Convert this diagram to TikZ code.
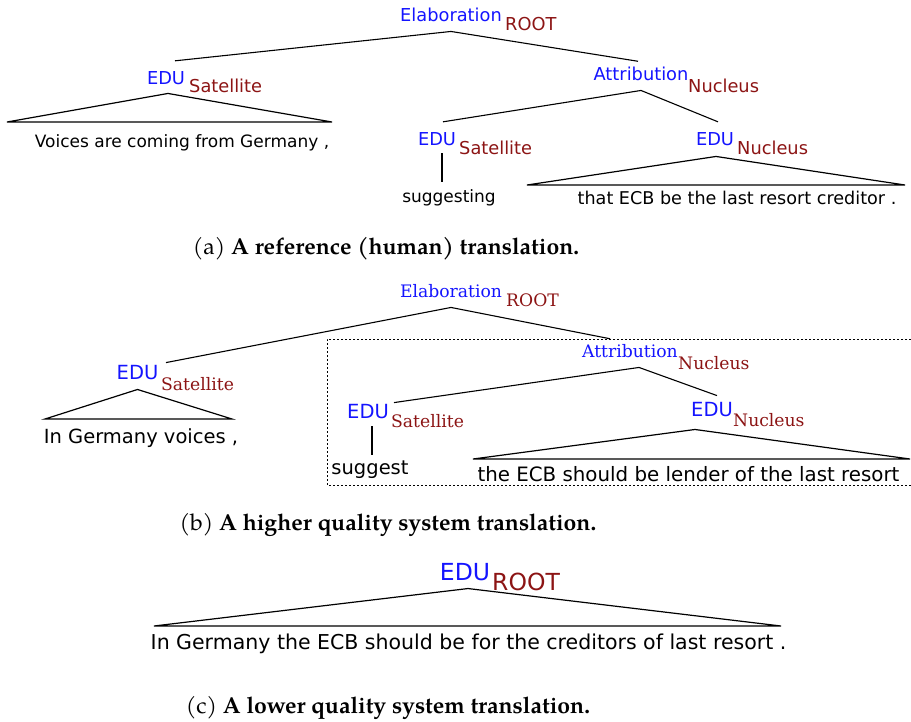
\documentclass[tikz,border=0pt]{standalone}
\usepackage{fontspec}
\usetikzlibrary{calc}
\newfontfamily\edusans{DejaVu Sans}
\newfontfamily\relserif{DejaVu Serif}
\newfontfamily\capserif{TeX Gyre Pagella}
\definecolor{relblue}{RGB}{20,20,255}
\definecolor{nucred}{RGB}{140,20,20}
\newcommand{\labA}{\edusans\fontsize{17.8}{20}\selectfont}
\newcommand{\txtA}{\edusans\fontsize{17}{20}\selectfont}
\newcommand{\txtAA}{\edusans\fontsize{17.6}{20}\selectfont}
\newcommand{\sansB}{\edusans\fontsize{19.5}{22}\selectfont}
\newcommand{\txtBB}{\edusans\fontsize{19.8}{22}\selectfont}
\newcommand{\serifB}{\relserif\fontsize{17.2}{20}\selectfont}
\newcommand{\labC}{\edusans\fontsize{23.5}{26}\selectfont}
\newcommand{\txtC}{\edusans\fontsize{20.5}{23}\selectfont}
\newcommand{\capF}{\capserif\fontsize{23}{26}\selectfont}
\tikzset{
  lbl/.style={anchor=base, inner xsep=0pt, inner ysep=10pt, text=relblue},
  sub/.style={anchor=base west, inner sep=0pt, text=nucred},
  leaf/.style={anchor=base, inner sep=0pt},
  branch/.style={line width=1.1pt},
  span/.style={line width=1.2pt, line join=miter},
  boxed/.style={dash pattern=on 2pt off 2pt, line width=0.8pt},
}
\begin{document}
\begin{tikzpicture}[x=1pt,y=1pt,yscale=-1,xscale=1]
\useasboundingbox (0,0) rectangle (911,721);

% (a) reference translation
\node[lbl, font=\labA] (aroot) at (451,21) {Elaboration};
\node[sub, font=\labA] (aroot-s) at (505,30) {ROOT};
\node[lbl, font=\labA] (asat) at (166,84) {EDU};
\node[sub, font=\labA] (asat-s) at (189,92) {Satellite};
\node[lbl, font=\labA] (aatt) at (641,80) {Attribution};
\node[sub, font=\labA] (aatt-s) at (688,92) {Nucleus};
\node[lbl, font=\labA] (asat2) at (437,145) {EDU};
\node[sub, font=\labA] (asat2-s) at (459,154) {Satellite};
\node[lbl, font=\labA] (anuc) at (715,145) {EDU};
\node[sub, font=\labA] (anuc-s) at (737,154) {Nucleus};
% Text Node
\node[leaf, font=\txtA] (atxt1) at (182,147) {Voices are coming from Germany ,};
\node[leaf, font=\txtA] (atxt2) at (449,202) {suggesting};
\node[leaf, font=\txtAA] (atxt3) at (737,204) {that ECB be the last resort creditor .};

\draw[branch] (aroot.south) -- ($(asat.north)+(9,0)$);
\draw[branch] (aroot.south) -- ($(aatt.north)+(-3,5)$);
\draw[branch] (aatt.south) -- ($(asat2.north)+(6,0)$);
\draw[branch] (aatt.south) -- ($(anuc.north)+(3,0)$);
\draw[branch] ($(asat2.south)+(5,-2)$) -- ($(atxt2.north)+(-7,-7)$);
%Shape: span triangles
\coordinate (abl1) at (7,122);
\coordinate (abr1) at (332,122);
\draw[span] ($(asat.south)+(2,-1)$) -- (abl1) -- (abr1) -- cycle;
\coordinate (abl2) at (527,185);
\coordinate (abr2) at (905,185);
\draw[span] ($(anuc.south)+(1,1)$) -- (abl2) -- (abr2) -- cycle;

\node[leaf, font=\capF] (capa) at (386,254) {(a) \textbf{A reference (human) translation.}};

% (b) higher quality system translation
\node[lbl, font=\serifB] (broot) at (451,297) {Elaboration};
\node[sub, font=\serifB] (broot-s) at (506,306) {ROOT};
\node[lbl, font=\sansB] (bsat) at (137.5,379) {EDU};
\node[sub, font=\serifB] (bsat-s) at (161,390) {Satellite};
\node[lbl, font=\serifB] (batt) at (630,357) {Attribution};
\node[sub, font=\serifB] (batt-s) at (678,369) {Nucleus};
\node[lbl, font=\sansB] (bsat2) at (368,418) {EDU};
\node[sub, font=\serifB] (bsat2-s) at (391,427) {Satellite};
\node[lbl, font=\sansB] (bnuc) at (712,416) {EDU};
\node[sub, font=\serifB] (bnuc-s) at (733,426) {Nucleus};
% Text Node
\node[leaf, font=\sansB] (btxt1) at (141,443) {In Germany voices ,};
\node[leaf, font=\sansB] (btxt2) at (370,474) {suggest};
\node[leaf, font=\txtBB] (btxt3) at (688.5,481) {the ECB should be lender of the last resort};

\draw[boxed] (911,339) -| (327,485) -- (911,485);
\draw[branch] (broot.south) -- ($(bsat.north)+(28.5,8)$);
\draw[branch] (broot.south) -- ($(batt.north)+(-20,5)$);
\draw[branch] ($(batt.south)+(9,0)$) -- ($(bsat2.north)+(26,9)$);
\draw[branch] ($(batt.south)+(9,0)$) -- ($(bnuc.north)+(5,4)$);
\draw[branch] ($(bsat2.south)+(4,-2)$) -- ($(btxt2.north)+(2,-5)$);
%Shape: span triangles
\coordinate (bbl1) at (45,419);
\coordinate (bbr1) at (232,419);
\draw[span] (bsat.south) -- (bbl1) -- (bbr1) -- cycle;
\coordinate (bbl2) at (473,459);
\coordinate (bbr2) at (910,459);
\draw[span] ($(bnuc.south)+(-17,3)$) -- (bbl2) -- (bbr2) -- cycle;

\node[leaf, font=\capF] (capb) at (388,530) {(b) \textbf{A higher quality system translation.}};

% (c) lower quality system translation
\node[lbl, font=\labC] (cedu) at (465,580) {EDU};
\node[sub, font=\labC] (cedu-s) at (492,590) {ROOT};
% Text Node
\node[leaf, font=\txtC] (ctxt) at (468.5,649) {In Germany the ECB should be for the creditors of last resort .};
\coordinate (cbl) at (154,626);
\coordinate (cbr) at (781,626);
\draw[span] ($(cedu.south)+(3,-2)$) -- (cbl) -- (cbr) -- cycle;

\node[leaf, font=\capF] (capc) at (388,713) {(c) \textbf{A lower quality system translation.}};

\end{tikzpicture}
\end{document}
